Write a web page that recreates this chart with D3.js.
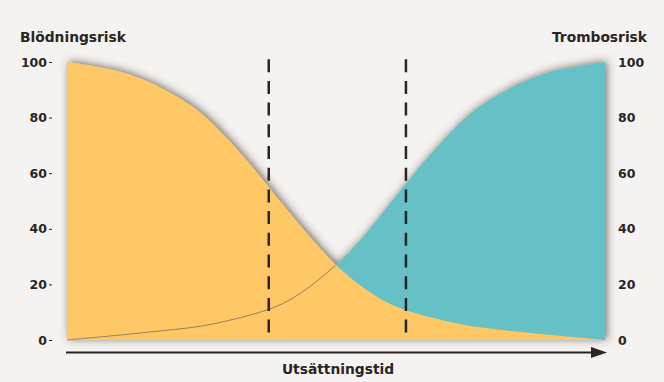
<!DOCTYPE html>
<html>
<head>
<meta charset="utf-8">
<script src="https://cdn.jsdelivr.net/npm/d3@7"></script>
<style>
  html, body { margin: 0; padding: 0; background: #f4f3f1; }
  svg { display: block; }
  text { font-family: "DejaVu Sans", sans-serif; font-weight: bold; fill: #2a2522; }
</style>
</head>
<body>
<svg id="chart" width="664" height="382"></svg>
<script>
// Time after discontinuation (relative units, 0–100)
const time = [0, 5, 10, 15, 20, 25, 30, 35, 40, 45, 50, 55, 60, 65, 70, 75, 80, 85, 90, 95, 100];
// Bleeding risk (%) – falls as the drug wears off
const bleedingRisk = [100, 98.5, 96.5, 93, 88, 81.5, 72, 61, 49, 37.5, 27, 19, 13, 9.5, 7, 5, 3.8, 2.8, 1.8, 0.9, 0];
// Thrombosis risk (%) – rises as protection is lost
const thrombosisRisk = [0, 0.9, 1.8, 2.8, 3.8, 5, 7, 9.5, 13, 19, 27, 37, 49, 61, 72, 81.5, 88, 93, 96.5, 98.5, 100];
// Suggested window for the procedure (time values)
const windowMarks = [37.5, 63];
const yTicks = [0, 20, 40, 60, 80, 100];
const leftTitle = "Blödningsrisk";
const rightTitle = "Trombosrisk";
const xTitle = "Utsättningstid";

const svg = d3.select("#chart");
const W = 664, H = 382;

svg.append("rect").attr("width", W).attr("height", H).attr("fill", "#f4f3f1");

const x = d3.scaleLinear().domain([0, 100]).range([67, 605]);
const y = d3.scaleLinear().domain([0, 100]).range([340, 62]);

// soft shadow around the risk areas
const defs = svg.append("defs");
const f = defs.append("filter").attr("id", "shade")
  .attr("x", "-10%").attr("y", "-15%").attr("width", "120%").attr("height", "130%");
f.append("feGaussianBlur").attr("in", "SourceAlpha").attr("stdDeviation", 4).attr("result", "blur");
f.append("feOffset").attr("in", "blur").attr("dx", 2).attr("dy", -1).attr("result", "off");
f.append("feFlood").attr("flood-color", "#45342a").attr("flood-opacity", 0.7).attr("result", "col");
f.append("feComposite").attr("in", "col").attr("in2", "off").attr("operator", "in").attr("result", "sh");
const m = f.append("feMerge");
m.append("feMergeNode").attr("in", "sh");
m.append("feMergeNode").attr("in", "SourceGraphic");

const bleed = time.map((t, i) => ({ t, v: bleedingRisk[i] }));
const thromb = time.map((t, i) => ({ t, v: thrombosisRisk[i] }));

const curve = d3.curveCatmullRom.alpha(0.5);
const area = d3.area()
  .x(d => x(d.t)).y0(y(0)).y1(d => y(d.v))
  .curve(curve);

const g = svg.append("g").attr("filter", "url(#shade)");
g.append("path").datum(thromb).attr("d", area).attr("fill", "#65c1c6");
g.append("path").datum(bleed).attr("d", area).attr("fill", "#fdc865");

// thrombosis curve visible through the bleeding area
const line = d3.line().x(d => x(d.t)).y(d => y(d.v)).curve(curve);
svg.append("path").datum(thromb.filter(d => d.t <= 50)).attr("d", line)
  .attr("fill", "none").attr("stroke", "#8a7b62").attr("stroke-width", 0.9);

// dashed window markers
svg.selectAll("line.mark").data(windowMarks).join("line")
  .attr("class", "mark")
  .attr("x1", d => x(d)).attr("x2", d => x(d))
  .attr("y1", y(101)).attr("y2", y(2.5))
  .attr("stroke", "#2a2522").attr("stroke-width", 2.5)
  .attr("stroke-dasharray", "13,8.7");

// y axes
const leftAxis = svg.append("g").attr("transform", "translate(52,0)")
  .call(d3.axisLeft(y).tickValues(yTicks).tickSize(3).tickPadding(2));
const rightAxis = svg.append("g").attr("transform", "translate(615,0)")
  .call(d3.axisRight(y).tickValues(yTicks).tickSize(0).tickPadding(3));
[leftAxis, rightAxis].forEach(a => {
  a.select(".domain").remove();
  a.selectAll("line").attr("stroke", "#2a2522");
  a.selectAll("text").attr("font-family", "DejaVu Sans").attr("font-weight", "bold")
    .attr("font-size", 12.5).attr("fill", "#2a2522");
});

// axis titles
svg.append("text").attr("x", 20).attr("y", 42).attr("font-size", 13.8).text(leftTitle);
svg.append("text").attr("x", 647).attr("y", 42).attr("font-size", 13.8)
  .attr("text-anchor", "end").text(rightTitle);

// time arrow
svg.append("line").attr("x1", x(0) - 1).attr("x2", x(100) - 10)
  .attr("y1", 352.5).attr("y2", 352.5).attr("stroke", "#2a2522").attr("stroke-width", 1.8);
svg.append("path")
  .attr("d", `M${x(100) - 14},347 L${x(100) + 2},352.5 L${x(100) - 14},358 Z`)
  .attr("fill", "#2a2522");
svg.append("text").attr("x", 338).attr("y", 374).attr("font-size", 13.8)
  .attr("text-anchor", "middle").text(xTitle);
</script>
</body>
</html>
